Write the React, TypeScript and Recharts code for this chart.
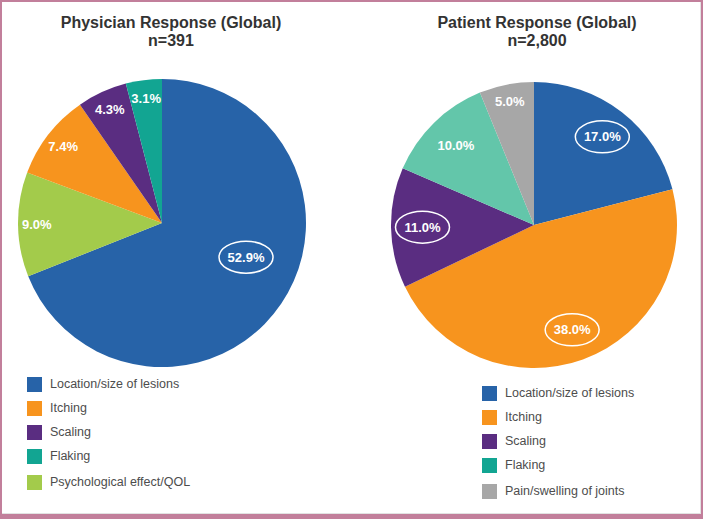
import React from 'react';
import { PieChart, Pie, Cell } from 'recharts';

// Physician response (global), n=391 – slice order is clockwise from 12 o'clock
const physicianCategories = ['Location/size of lesions', 'Psychological effect/QOL', 'Itching', 'Scaling', 'Flaking'];
const physicianValues = [52.9, 9.0, 7.4, 4.3, 3.1];
const physicianLegend = ['Location/size of lesions', 'Itching', 'Scaling', 'Flaking', 'Psychological effect/QOL'];

// Patient response (global), n=2,800
const patientCategories = ['Location/size of lesions', 'Itching', 'Scaling', 'Flaking', 'Pain/swelling of joints'];
const patientValues = [17.0, 38.0, 11.0, 10.0, 5.0];
const patientLegend = ['Location/size of lesions', 'Itching', 'Scaling', 'Flaking', 'Pain/swelling of joints'];

const FONT = '"Liberation Sans", Arial, sans-serif';
const RAD = Math.PI / 180;

const LEFT_COLORS: Record<string, string> = {
  'Location/size of lesions': '#2763a8',
  'Itching': '#f7941e',
  'Scaling': '#5a2d81',
  'Flaking': '#12a592',
  'Psychological effect/QOL': '#a3cb4b',
};

const RIGHT_COLORS: Record<string, string> = {
  'Location/size of lesions': '#2763a8',
  'Itching': '#f7941e',
  'Scaling': '#5a2d81',
  'Flaking': '#63c6aa',
  'Pain/swelling of joints': '#a7a7a7',
};

const RIGHT_LEGEND_COLORS: Record<string, string> = { ...RIGHT_COLORS, 'Flaking': '#12a592' };

// label placed along the slice's mid angle; big slices get their label nudged towards the right
const makeLabel = (circled: string[], ratio: (p: number) => number) => (props: any) => {
  const { cx, cy, midAngle, outerRadius, percent, value, name } = props;
  const r = outerRadius * ratio(percent);
  const a = percent > 0.5 ? midAngle + 12 : midAngle;
  const x = cx + r * Math.cos(-a * RAD);
  const y = cy + r * Math.sin(-a * RAD);
  return (
    <g>
      {circled.includes(name) && (
        <ellipse cx={x} cy={y} rx={27} ry={16} fill="none" stroke="#ffffff" strokeWidth={1.5} />
      )}
      <text x={x} y={y} fill="#ffffff" textAnchor="middle" dominantBaseline="central"
        fontFamily={FONT} fontSize={13} fontWeight="bold">
        {Number(value).toFixed(1)}%
      </text>
    </g>
  );
};

const LegendBox = ({ names, colors, left, top }: { names: string[]; colors: Record<string, string>; left: number; top: number }) => (
  <div style={{ position: 'absolute', left, top, fontFamily: FONT }}>
    {names.map((n, i) => (
      <div key={n} style={{ display: 'flex', alignItems: 'center', height: 24, marginTop: i === names.length - 1 ? 2 : 0 }}>
        <div style={{ width: 15, height: 15, background: colors[n], marginRight: 8 }} />
        <span style={{ fontSize: 12.5, color: '#4d4d4d' }}>{n}</span>
      </div>
    ))}
  </div>
);

const Title = ({ lines, cx }: { lines: string[]; cx: number }) => (
  <div style={{
    position: 'absolute', left: cx - 150, top: 14, width: 300, textAlign: 'center',
    fontFamily: FONT, fontWeight: 'bold', fontSize: 16, lineHeight: '18px', color: '#333333',
  }}>
    {lines.map(l => <div key={l}>{l}</div>)}
  </div>
);

export default function App() {
  const physicianData = physicianCategories.map((name, i) => ({ name, value: physicianValues[i] }));
  const patientData = patientCategories.map((name, i) => ({ name, value: patientValues[i] }));

  return (
    <div style={{ position: 'absolute', left: 0, top: 0, width: 703, height: 519, background: '#ffffff', overflow: 'hidden' }}>
      <Title lines={['Physician Response (Global)', 'n=391']} cx={171} />
      <Title lines={['Patient Response (Global)', 'n=2,800']} cx={537} />

      <div style={{ position: 'absolute', left: 0, top: 0 }}>
        <PieChart width={350} height={380} margin={{ top: 0, right: 0, bottom: 0, left: 0 }}>
          <Pie data={physicianData} dataKey="value" nameKey="name" cx={162} cy={223}
            outerRadius={144} startAngle={90} endAngle={-270} stroke="none"
            labelLine={false} label={makeLabel(['Location/size of lesions'], p => (p > 0.5 ? 0.63 : 0.87))}
            isAnimationActive={false}>
            {physicianData.map(d => <Cell key={d.name} fill={LEFT_COLORS[d.name]} />)}
          </Pie>
        </PieChart>
      </div>

      <div style={{ position: 'absolute', left: 350, top: 0 }}>
        <PieChart width={350} height={380} margin={{ top: 0, right: 0, bottom: 0, left: 0 }}>
          <Pie data={patientData} dataKey="value" nameKey="name" cx={184} cy={225}
            outerRadius={143} startAngle={90} endAngle={-270} stroke="none"
            labelLine={false}
            label={makeLabel(['Location/size of lesions', 'Itching', 'Scaling'], p => (p < 0.08 ? 0.88 : 0.78))}
            isAnimationActive={false}>
            {patientData.map(d => <Cell key={d.name} fill={RIGHT_COLORS[d.name]} />)}
          </Pie>
        </PieChart>
      </div>

      <LegendBox names={physicianLegend} colors={LEFT_COLORS} left={27} top={372} />
      <LegendBox names={patientLegend} colors={RIGHT_LEGEND_COLORS} left={482} top={381} />

      {/* frame */}
      <div style={{
        position: 'absolute', left: 0, top: 0, width: 703, height: 519, boxSizing: 'border-box',
        borderStyle: 'solid', borderColor: '#c27f9b', borderWidth: '2px 2px 5px 2px', pointerEvents: 'none',
      }}>
        <div style={{ width: '100%', height: '100%', boxSizing: 'border-box', borderRight: '1px solid #e2e2e2', borderBottom: '1px solid #e2e2e2' }} />
      </div>
    </div>
  );
}
